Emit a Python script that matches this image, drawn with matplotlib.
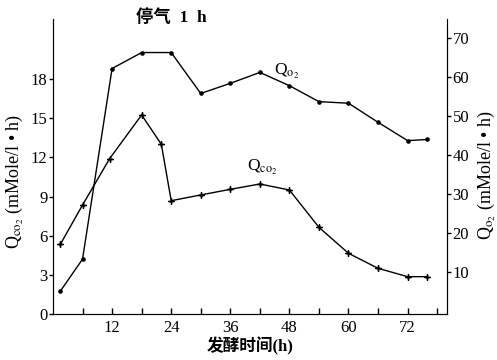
import matplotlib
matplotlib.use("Agg")
import matplotlib.pyplot as plt
from matplotlib.ticker import FixedLocator

plt.rcParams['font.family'] = ['Liberation Serif', 'Noto Sans CJK SC']
plt.rcParams['mathtext.fontset'] = 'stix'

# O2 uptake (right axis)
t_o2 = [1.5, 6, 12, 18, 24, 30, 36, 42, 48, 54, 60, 66, 72, 76]
q_o2 = [5.1, 13.3, 62.2, 66.3, 66.3, 55.8, 58.4, 61.2, 57.8, 53.7, 53.3, 48.4, 43.7, 44.0]

# CO2 evolution (left axis)
t_co2 = [1.5, 6, 11.5, 18, 22, 24, 30, 36, 42, 48, 54, 60, 66, 72, 76]
q_co2 = [5.34, 8.35, 11.9, 15.25, 13.0, 8.68, 9.12, 9.55, 9.96, 9.5, 6.64, 4.65, 3.5, 2.86, 2.86]

left_ticks = [3, 6, 9, 12, 15, 18]
right_ticks = [10, 20, 30, 40, 50, 60, 70]
x_labels = [12, 24, 36, 48, 60, 72]

fig = plt.figure(figsize=(4.97, 3.6), dpi=100)
ax = fig.add_axes([0.1066, 0.1278, 0.7928, 0.8194])
ax2 = ax.twinx()

ax.plot(t_co2, q_co2, color='black', lw=1.0, marker=(4, 2, 0), ms=4, mew=1.0)
ax2.plot(t_o2, q_o2, color='black', lw=1.0, marker='o', ms=2.3)

ax.set_xlim(0, 80)
ax.set_ylim(0, 22.6)
ax2.set_ylim(-0.77, 74.9)

for a in (ax, ax2):
    a.spines['top'].set_visible(False)
ax2.spines['right'].set_bounds(-0.77, 73)

ax.xaxis.set_major_locator(FixedLocator(x_labels))
ax.xaxis.set_minor_locator(FixedLocator([6, 18, 30, 42, 54, 66, 78]))
ax.tick_params(axis='x', which='both', direction='in', length=4, width=1, labelsize=12, pad=4)
ax.set_yticks([0] + left_ticks)
ax.set_yticklabels(['0'] + [str(v) for v in left_ticks])
ax.tick_params(axis='y', direction='out', length=3, width=1, labelsize=12, pad=1)
ax2.set_yticks(right_ticks)
ax2.tick_params(axis='y', direction='out', length=3, width=1, labelsize=12, pad=1)

ax.set_ylabel('Q$_{\\mathrm{co_2}}$ (mMole/l • h)', fontsize=13)
ax2.set_ylabel('Q$_{\\mathrm{o_2}}$ (mMole/l • h)', fontsize=13)
ax.yaxis.set_label_coords(-0.07, 0.45)
ax2.yaxis.set_label_coords(1.072, 0.47)
ax.set_xlabel('发酵时间(h)', fontsize=12, fontweight='bold', labelpad=1)

fig.text(0.345, 0.95, '停气  1  h', fontsize=12.5, fontweight='bold', ha='center', va='center')
ax2.text(47.5, 61.5, 'Q$_{\\mathrm{o_2}}$', fontsize=12.5, ha='center', va='center')
ax.text(42.5, 11.2, 'Q$_{\\mathrm{co_2}}$', fontsize=12.5, ha='center', va='center')

fig.savefig('out.png', dpi=100)
